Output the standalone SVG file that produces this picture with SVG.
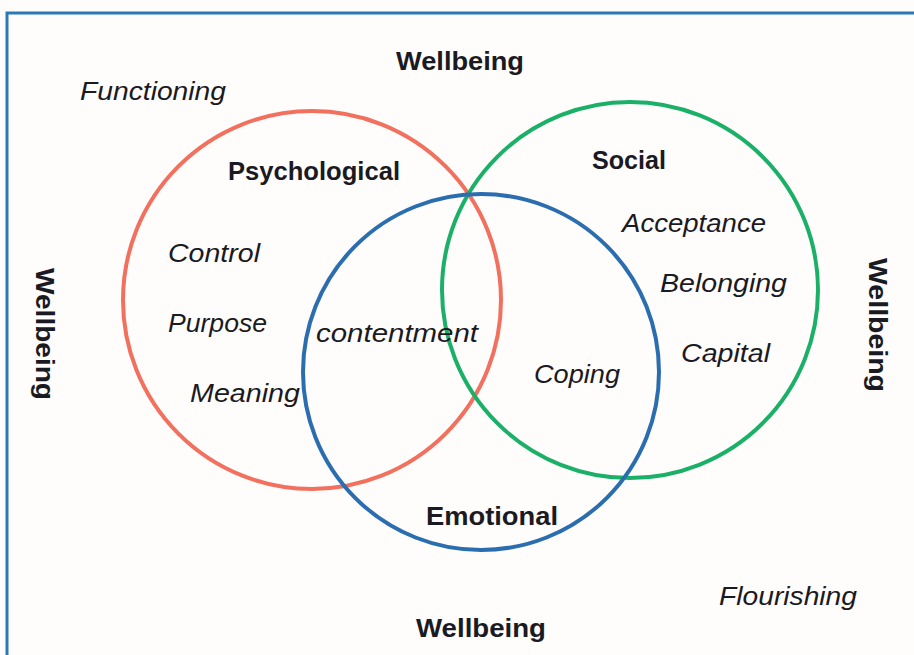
<svg xmlns="http://www.w3.org/2000/svg" width="914" height="655" viewBox="0 0 914 655">
<style>
.b{font-family:"Liberation Sans",Arial,sans-serif;font-weight:bold;font-size:26px;fill:#1a1a22}
.i{font-family:"Liberation Sans",Arial,sans-serif;font-style:italic;font-size:26px;fill:#1a1a22}
.c{fill:none;stroke-width:4}
</style>
<rect width="914" height="655" fill="#fffcfc"/>
<path d="M7,655 V13 H914" fill="none" stroke="#2a7ab5" stroke-width="3"/>
<g id="psychological"><circle class="c" cx="312" cy="300" r="189" stroke="#f2705e"/>
<text class="b" x="228" y="180" textLength="172" lengthAdjust="spacingAndGlyphs">Psychological</text>
<text class="i" x="168" y="262" textLength="92" lengthAdjust="spacingAndGlyphs">Control</text>
<text class="i" x="168" y="332" textLength="99" lengthAdjust="spacingAndGlyphs">Purpose</text>
<text class="i" x="190" y="402" textLength="110" lengthAdjust="spacingAndGlyphs">Meaning</text></g>
<g id="social"><circle class="c" cx="630" cy="290" r="188" stroke="#1bb067"/>
<text class="b" x="592" y="169" textLength="74" lengthAdjust="spacingAndGlyphs">Social</text>
<text class="i" x="622" y="232" textLength="144" lengthAdjust="spacingAndGlyphs">Acceptance</text>
<text class="i" x="660" y="292" textLength="127" lengthAdjust="spacingAndGlyphs">Belonging</text>
<text class="i" x="681" y="362" textLength="89" lengthAdjust="spacingAndGlyphs">Capital</text></g>
<g id="emotional"><circle class="c" cx="481" cy="372" r="178" stroke="#2b6eb0"/>
<text class="b" x="426" y="525" textLength="132" lengthAdjust="spacingAndGlyphs">Emotional</text>
<text class="i" x="316" y="342" textLength="162" lengthAdjust="spacingAndGlyphs">contentment</text>
<text class="i" x="534" y="383" textLength="86" lengthAdjust="spacingAndGlyphs">Coping</text></g>
<g id="labels">
<text class="b" x="396" y="70" textLength="128" lengthAdjust="spacingAndGlyphs">Wellbeing</text>
<text class="b" x="416" y="637" textLength="130" lengthAdjust="spacingAndGlyphs">Wellbeing</text>
<text class="i" x="80" y="100" textLength="146" lengthAdjust="spacingAndGlyphs">Functioning</text>
<text class="i" x="719" y="605" textLength="138" lengthAdjust="spacingAndGlyphs">Flourishing</text>
<text class="b" transform="translate(36,268) rotate(90)" textLength="132" lengthAdjust="spacingAndGlyphs">Wellbeing</text>
<text class="b" transform="translate(869,258) rotate(90)" textLength="134" lengthAdjust="spacingAndGlyphs">Wellbeing</text>
</g>
<g id="connectors"/>
</svg>
